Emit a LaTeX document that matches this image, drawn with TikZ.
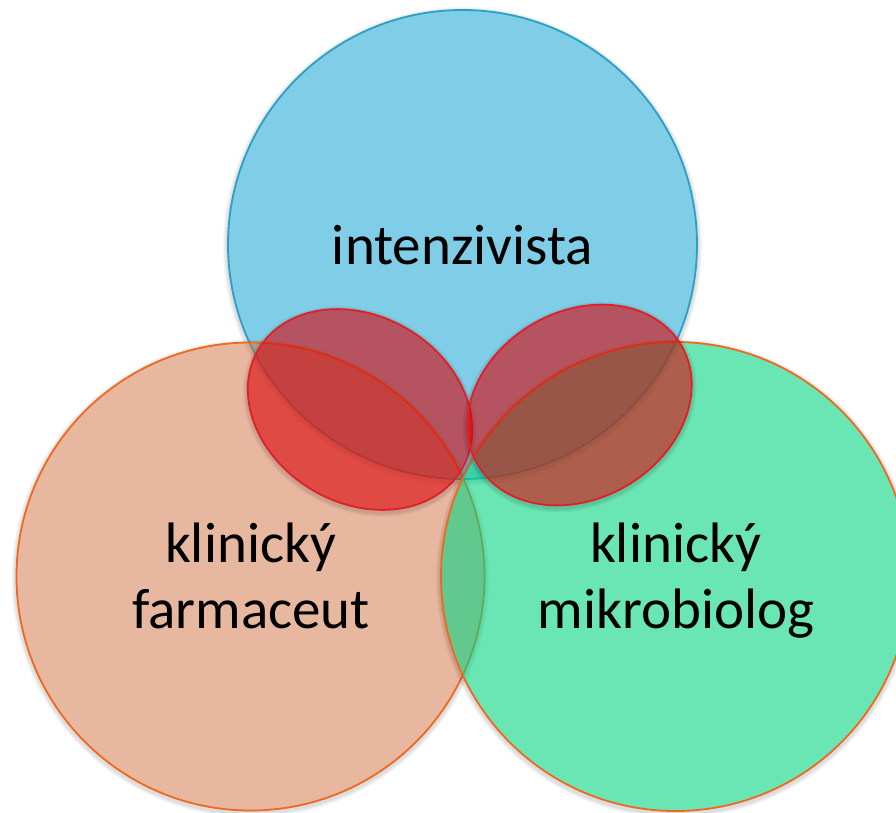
\documentclass[tikz,border=0pt]{standalone}
\usepackage{fontspec}
\setmainfont{Carlito}
\definecolor{bluefill}{RGB}{127,205,230}
\definecolor{blueline}{RGB}{43,160,198}
\definecolor{orangefill}{RGB}{209,111,65}
\definecolor{orangeline}{RGB}{240,104,30}
\definecolor{greenfill}{RGB}{7,213,130}
\definecolor{redfill}{RGB}{217,4,7}
\definecolor{redline}{RGB}{226,30,38}
\tikzset{
  bluecirc/.style={fill=bluefill, draw=blueline, line width=1.8pt},
  orangecirc/.style={fill=orangefill, fill opacity=0.5, draw=orangeline, line width=1.8pt},
  greencirc/.style={fill=greenfill, fill opacity=0.6, draw=orangeline, line width=1.8pt},
  redell/.style={fill=redfill, fill opacity=0.6, draw=redline, line width=1.8pt},
  shadowring/.style={fill=black, fill opacity=0.035, even odd rule},
  lbl/.style={font=\fontsize{57}{66}\selectfont, text=black, anchor=base, inner sep=0pt}
}
\newcommand{\ringshadow}[3]{%
  \foreach \k in {2,...,5}{%
    \fill[shadowring] (#1,#2+2) circle[radius=#3+\k] (#1,#2) circle[radius=#3];}}
\begin{document}
\begin{tikzpicture}[x=1pt,y=-1pt]
\useasboundingbox (0,0) rectangle (896,812);
\clip (0,0) rectangle (896,812);
% circles
\ringshadow{462.5}{244.5}{234.5}
\draw[bluecirc] (462.5,244.5) circle[radius=234.5];
\ringshadow{250.5}{576.5}{234}
\draw[orangecirc] (250.5,576.5) circle[radius=234];
\ringshadow{675.5}{576.5}{234.5}
\draw[greencirc] (675.5,576.5) circle[radius=234.5];
% overlap ellipses
\begin{scope}[shift={(360,409.5)}, rotate=-30.5]
  \foreach \k in {2,...,5}{%
    \fill[shadowring] (1.02,1.72) ellipse[x radius=118+\k, y radius=93.5+\k] (0,0) ellipse[x radius=118, y radius=93.5];}
  \draw[redell] (0,0) ellipse[x radius=118, y radius=93.5];
\end{scope}
\begin{scope}[shift={(579.5,405)}, rotate=30.5]
  \foreach \k in {2,...,5}{%
    \fill[shadowring] (-1.02,1.72) ellipse[x radius=118+\k, y radius=93.5+\k] (0,0) ellipse[x radius=118, y radius=93.5];}
  \draw[redell] (0,0) ellipse[x radius=118, y radius=93.5];
\end{scope}
% labels
\node[lbl] (int) at (462.5,264) {intenzivista};
\node[lbl] (kf1) at (250.5,562.5) {klinický};
\node[lbl] (kf2) at (251,628.5) {farmaceut};
\node[lbl] (km1) at (675.5,562.5) {klinický};
\node[lbl] (km2) at (676,628.5) {mikrobiolog};
\end{tikzpicture}
\end{document}
